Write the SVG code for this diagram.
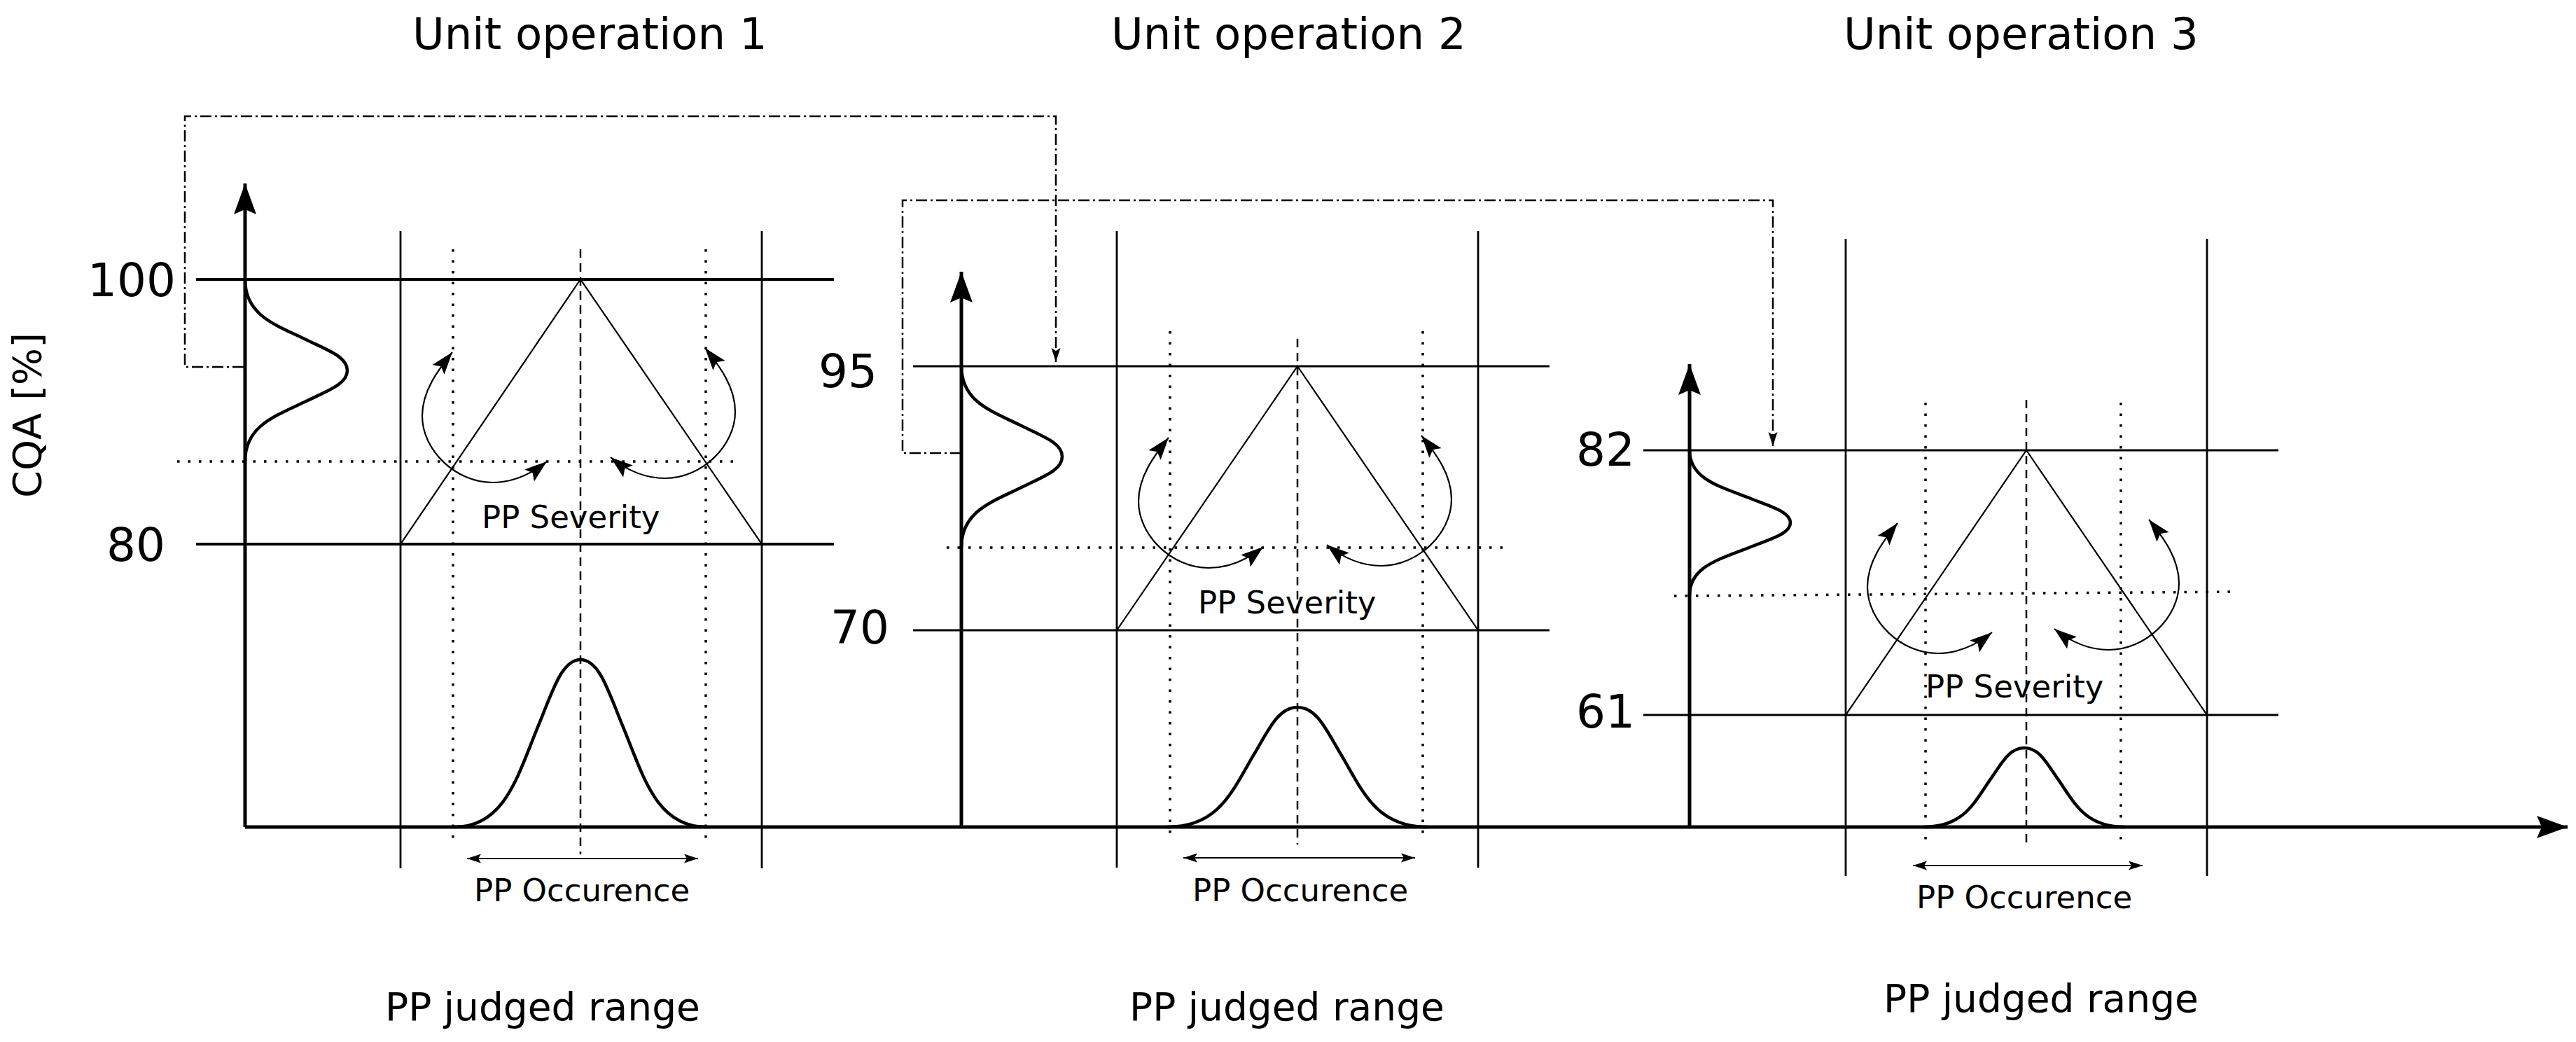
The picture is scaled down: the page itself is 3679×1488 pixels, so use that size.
<svg xmlns="http://www.w3.org/2000/svg" xmlns:xlink="http://www.w3.org/1999/xlink" width="3679" height="1488" viewBox="0 0 3679 1488">
<style>
text{font-family:"DejaVu Sans","Verdana",sans-serif;fill:#000}
.title{font-size:62.5px}
.tick{font-size:66px}
.lab{font-size:45px}
.range{font-size:55px}
.axis{stroke:#000;stroke-width:5;fill:none}
.hl{stroke:#000;stroke-width:3.2;fill:none}
.hl1{stroke:#000;stroke-width:4.2;fill:none}
.vl{stroke:#000;stroke-width:2.8;fill:none}
.tri{stroke:#000;stroke-width:2.2;fill:none}
.dot{stroke:#000;stroke-width:3.5;stroke-dasharray:3.5 12;fill:none}
.dash{stroke:#000;stroke-width:2.5;stroke-dasharray:12 8;fill:none}
.bell{stroke:#000;stroke-width:4.5;fill:none;vector-effect:non-scaling-stroke}
.arc{stroke:#000;stroke-width:2.2;fill:none;marker-start:url(#head);marker-end:url(#head)}
.occ{stroke:#000;stroke-width:2.2;fill:none;marker-start:url(#small);marker-end:url(#small)}
.link{stroke:#000;stroke-width:2.5;stroke-dasharray:16 5 3 5;fill:none;marker-end:url(#small)}
</style>
<defs>
<marker id="big" markerUnits="userSpaceOnUse" viewBox="-46 -18 48 36" refX="0" refY="0" markerWidth="48" markerHeight="36" orient="auto">
<path d="M0,0 L-44,-16 L-37,0 L-44,16 z" fill="#000" stroke="none"/>
</marker>
<marker id="head" markerUnits="userSpaceOnUse" viewBox="-34 -13 36 26" refX="0" refY="0" markerWidth="36" markerHeight="26" orient="auto-start-reverse">
<path d="M0,0 L-32,-11 L-26,0 L-32,11 z" fill="#000" stroke="none"/>
</marker>
<marker id="small" markerUnits="userSpaceOnUse" viewBox="-22 -8 24 16" refX="0" refY="0" markerWidth="24" markerHeight="16" orient="auto-start-reverse">
<path d="M0,0 L-20,-6.5 L-16,0 L-20,6.5 z" fill="#000" stroke="none"/>
</marker>
<path id="arcL" d="M0,0 C-20,25 -43,55 -43,91 C-43,140 5,186 57,186 C90,186 115,172 135,156"/>
</defs>

<text class="lab" style="font-size:56px" transform="translate(58,593) rotate(-90)" text-anchor="middle">CQA [%]</text>

<g id="axes">
<line class="axis" x1="350" y1="1181" x2="3667" y2="1181" marker-end="url(#big)"/>
</g>

<g id="unit-op-1">
<text class="title" x="589" y="70">Unit operation 1</text>
<line class="axis" x1="350" y1="1181" x2="350" y2="262" marker-end="url(#big)"/>
<text class="tick" x="251" y="423" text-anchor="end">100</text>
<text class="tick" x="236" y="801" text-anchor="end">80</text>
<line class="hl1" x1="280" y1="399" x2="1191" y2="399"/>
<line class="hl1" x1="280" y1="777" x2="1191" y2="777"/>
<line class="vl" x1="572" y1="330" x2="572" y2="1240"/>
<line class="vl" x1="1088" y1="330" x2="1088" y2="1240"/>
<line class="dot" x1="647" y1="356" x2="647" y2="1200"/>
<line class="dot" x1="1008" y1="356" x2="1008" y2="1200"/>
<line class="dash" x1="829" y1="356" x2="829" y2="1220"/>
<line class="dot" x1="253" y1="659" x2="1057" y2="659"/>
<polyline class="tri" points="572,777 829,399 1088,777"/>
<path class="bell" transform="matrix(0,43.3,-146,0,350,529)" d="M-3,0 C-1.8,0 -1.5,-0.3035 -1,-0.607 C-0.67,-0.807 -0.45,-1 0,-1 C0.45,-1 0.67,-0.807 1,-0.607 C1.5,-0.3035 1.8,0 3,0"/>
<path class="bell" transform="translate(829,1181) scale(60,239)" d="M-3,0 C-1.8,0 -1.5,-0.3035 -1,-0.607 C-0.67,-0.807 -0.45,-1 0,-1 C0.45,-1 0.67,-0.807 1,-0.607 C1.5,-0.3035 1.8,0 3,0"/>
<use xlink:href="#arcL" class="arc" transform="translate(646,503)"/>
<use xlink:href="#arcL" class="arc" transform="translate(1007,497) scale(-1,1)"/>
<text class="lab" x="688" y="754">PP Severity</text>
<line class="occ" x1="667" y1="1226" x2="997" y2="1226"/>
<text class="lab" x="677" y="1287">PP Occurence</text>
<text class="range" x="550" y="1457">PP judged range</text>
</g>

<g id="unit-op-2">
<text class="title" x="1587" y="70">Unit operation 2</text>
<line class="axis" x1="1373" y1="1181" x2="1373" y2="388" marker-end="url(#big)"/>
<text class="tick" x="1253" y="553" text-anchor="end">95</text>
<text class="tick" x="1270" y="919" text-anchor="end">70</text>
<line class="hl" x1="1304" y1="523" x2="2213" y2="523"/>
<line class="hl" x1="1304" y1="900" x2="2213" y2="900"/>
<line class="vl" x1="1595" y1="330" x2="1595" y2="1239"/>
<line class="vl" x1="2111" y1="330" x2="2111" y2="1239"/>
<line class="dot" x1="1671" y1="473" x2="1671" y2="1195"/>
<line class="dot" x1="2032" y1="473" x2="2032" y2="1195"/>
<line class="dash" x1="1853" y1="484" x2="1853" y2="1206"/>
<line class="dot" x1="1352" y1="782" x2="2155" y2="782"/>
<polyline class="tri" points="1595,900 1853,523 2111,900"/>
<path class="bell" transform="matrix(0,43.2,-144,0,1373,652)" d="M-3,0 C-1.8,0 -1.5,-0.3035 -1,-0.607 C-0.67,-0.807 -0.45,-1 0,-1 C0.45,-1 0.67,-0.807 1,-0.607 C1.5,-0.3035 1.8,0 3,0"/>
<path class="bell" transform="translate(1853,1181) scale(62,171)" d="M-3,0 C-1.8,0 -1.5,-0.3035 -1,-0.607 C-0.67,-0.807 -0.45,-1 0,-1 C0.45,-1 0.67,-0.807 1,-0.607 C1.5,-0.3035 1.8,0 3,0"/>
<use xlink:href="#arcL" class="arc" transform="translate(1669,625)"/>
<use xlink:href="#arcL" class="arc" transform="translate(2030,622) scale(-1,1)"/>
<text class="lab" x="1711" y="876">PP Severity</text>
<line class="occ" x1="1690" y1="1225" x2="2021" y2="1225"/>
<text class="lab" x="1703" y="1287">PP Occurence</text>
<text class="range" x="1613" y="1457">PP judged range</text>
</g>

<g id="unit-op-3">
<text class="title" x="2633" y="70">Unit operation 3</text>
<line class="axis" x1="2413" y1="1181" x2="2413" y2="520" marker-end="url(#big)"/>
<text class="tick" x="2335" y="665" text-anchor="end">82</text>
<text class="tick" x="2335" y="1039" text-anchor="end">61</text>
<line class="hl" x1="2347" y1="643" x2="3254" y2="643"/>
<line class="hl" x1="2347" y1="1021" x2="3254" y2="1021"/>
<line class="vl" x1="2636" y1="341" x2="2636" y2="1251"/>
<line class="vl" x1="3152" y1="341" x2="3152" y2="1251"/>
<line class="dot" x1="2750" y1="575" x2="2750" y2="1202"/>
<line class="dot" x1="3029" y1="575" x2="3029" y2="1202"/>
<line class="dash" x1="2894" y1="571" x2="2894" y2="1205"/>
<line class="dot" x1="2391" y1="851" x2="3194" y2="845"/>
<polyline class="tri" points="2636,1021 2894,643 3152,1021"/>
<path class="bell" transform="matrix(0,34.5,-144,0,2413,746.5)" d="M-3,0 C-1.8,0 -1.5,-0.3035 -1,-0.607 C-0.67,-0.807 -0.45,-1 0,-1 C0.45,-1 0.67,-0.807 1,-0.607 C1.5,-0.3035 1.8,0 3,0"/>
<path class="bell" transform="translate(2891,1181) scale(48,113)" d="M-3,0 C-1.8,0 -1.5,-0.3035 -1,-0.607 C-0.67,-0.807 -0.45,-1 0,-1 C0.45,-1 0.67,-0.807 1,-0.607 C1.5,-0.3035 1.8,0 3,0"/>
<use xlink:href="#arcL" class="arc" transform="translate(2710,747)"/>
<use xlink:href="#arcL" class="arc" transform="translate(3069,742) scale(-1,1)"/>
<text class="lab" x="2750" y="996">PP Severity</text>
<line class="occ" x1="2732" y1="1236" x2="3060" y2="1236"/>
<text class="lab" x="2737" y="1297">PP Occurence</text>
<text class="range" x="2690" y="1445">PP judged range</text>
</g>

<g id="connectors">
<polyline class="link" points="348,524 264,524 264,166 1508,166 1508,517"/>
<polyline class="link" points="1373,647 1289,647 1289,286 2532,286 2532,637"/>
</g>
</svg>
